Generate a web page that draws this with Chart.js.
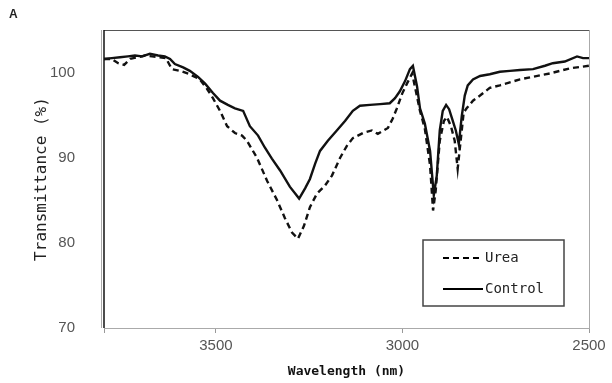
<!DOCTYPE html>
<html>
<head>
<meta charset="utf-8">
<script src="https://cdn.jsdelivr.net/npm/chart.js@4"></script>
<style>
	body { margin: 0; background: #fff; }
	#wrap { width: 612px; height: 383px; }
</style>
</head>
<body>
<div id="wrap"><canvas id="ftir" width="612" height="383"></canvas></div>
<script>
// Control (solid) spectrum
const controlX = [3800, 3779, 3757, 3736, 3717, 3698, 3677, 3655, 3637, 3623, 3610, 3588, 3570, 3548, 3529, 3508, 3489, 3468, 3449, 3427, 3409, 3387, 3369, 3350, 3328, 3302, 3277, 3261, 3248, 3234, 3221, 3200, 3176, 3154, 3133, 3114, 3087, 3060, 3034, 3020, 3007, 2993, 2980, 2972, 2961, 2953, 2940, 2926, 2916, 2908, 2900, 2892, 2883, 2875, 2867, 2857, 2849, 2841, 2833, 2825, 2811, 2792, 2766, 2739, 2712, 2685, 2650, 2618, 2597, 2565, 2532, 2516, 2500];
const controlY = [101.6, 101.7, 101.8, 101.9, 102.0, 101.9, 102.2, 102.0, 101.9, 101.6, 101.0, 100.6, 100.2, 99.5, 98.7, 97.6, 96.7, 96.2, 95.8, 95.5, 93.7, 92.6, 91.2, 89.9, 88.5, 86.6, 85.2, 86.4, 87.5, 89.3, 90.8, 92.0, 93.2, 94.3, 95.5, 96.1, 96.2, 96.3, 96.4, 97.0, 97.8, 99.0, 100.4, 100.8, 98.4, 95.8, 94.0, 90.8, 85.6, 87.9, 93.2, 95.5, 96.2, 95.7, 94.6, 93.2, 91.6, 94.9, 97.3, 98.5, 99.2, 99.6, 99.8, 100.1, 100.2, 100.3, 100.4, 100.8, 101.1, 101.3, 101.9, 101.7, 101.7];

// Urea (dashed) spectrum
const ureaX = [3800, 3779, 3762, 3746, 3730, 3709, 3690, 3671, 3650, 3634, 3618, 3596, 3570, 3543, 3524, 3508, 3489, 3470, 3449, 3430, 3417, 3390, 3363, 3336, 3315, 3296, 3280, 3264, 3248, 3229, 3208, 3189, 3167, 3149, 3133, 3106, 3082, 3066, 3039, 3026, 3015, 3001, 2988, 2974, 2964, 2953, 2940, 2926, 2918, 2911, 2900, 2889, 2881, 2870, 2860, 2852, 2844, 2836, 2828, 2811, 2792, 2766, 2739, 2685, 2605, 2551, 2500];
const ureaY = [101.6, 101.6, 101.1, 100.9, 101.6, 101.8, 102.0, 101.9, 101.8, 101.7, 100.4, 100.2, 99.8, 99.2, 98.1, 97.0, 95.5, 93.7, 92.9, 92.6, 92.0, 90.0, 87.3, 85.0, 82.9, 81.2, 80.5, 82.0, 84.2, 85.8, 86.7, 87.9, 90.0, 91.4, 92.3, 92.9, 93.2, 92.8, 93.5, 94.6, 95.8, 97.5, 98.7, 99.9, 97.8, 95.5, 93.4, 89.1, 83.8, 86.1, 92.0, 94.3, 94.8, 93.7, 92.0, 88.7, 92.0, 95.3, 95.8, 96.7, 97.3, 98.2, 98.5, 99.2, 99.9, 100.5, 100.8];

const xTicks = [3800, 3500, 3000, 2500];
const yTicks = [70, 80, 90, 100];

const toPoints = (xs, ys) => xs.map((x, i) => ({ x: x, y: ys[i] }));

// frame round the plot, the panel letter and the boxed legend
const framePlugin = {
	id: 'frame',
	afterDatasetsDraw(chart) {
		const { ctx, chartArea: a } = chart;
		ctx.save();
		ctx.lineWidth = 1;
		ctx.strokeStyle = '#555';
		ctx.beginPath();
		ctx.moveTo(a.left, a.top + 0.5);
		ctx.lineTo(a.right, a.top + 0.5);
		ctx.stroke();
		ctx.strokeStyle = '#aaa';
		ctx.beginPath();
		ctx.moveTo(a.right + 0.5, a.top);
		ctx.lineTo(a.right + 0.5, a.bottom);
		ctx.stroke();
		ctx.beginPath();
		ctx.moveTo(a.left - 2.5, a.top);
		ctx.lineTo(a.left - 2.5, a.bottom);
		ctx.stroke();
		ctx.strokeStyle = '#111';
		ctx.lineWidth = 1.5;
		ctx.beginPath();
		ctx.moveTo(a.left, a.top);
		ctx.lineTo(a.left, a.bottom);
		ctx.stroke();

		ctx.fillStyle = '#222';
		ctx.font = 'bold 12px "Liberation Sans"';
		ctx.textBaseline = 'middle';
		ctx.fillText('A', 9, 15);

		// legend box
		const bx = 423, by = 240, bw = 141, bh = 66;
		ctx.fillStyle = '#fff';
		ctx.fillRect(bx, by, bw, bh);
		ctx.strokeStyle = '#444';
		ctx.lineWidth = 1.5;
		ctx.strokeRect(bx, by, bw, bh);
		ctx.font = '14px "DejaVu Sans Mono"';
		chart.data.datasets.forEach((ds, i) => {
			const ly = by + 18 + i * 31;
			ctx.strokeStyle = '#000';
			ctx.lineWidth = 2.2;
			ctx.setLineDash(ds.borderDash || []);
			ctx.beginPath();
			ctx.moveTo(bx + 20, ly);
			ctx.lineTo(bx + 60, ly);
			ctx.stroke();
			ctx.setLineDash([]);
			ctx.fillStyle = '#222';
			ctx.fillText(ds.label, bx + 62, ly);
		});
		ctx.restore();
	}
};

new Chart(document.getElementById('ftir'), {
	type: 'line',
	data: {
		datasets: [{
			label: 'Urea',
			data: toPoints(ureaX, ureaY),
			borderColor: '#111',
			borderWidth: 2.4,
			borderDash: [6, 4],
			pointRadius: 0,
			tension: 0,
		}, {
			label: 'Control',
			data: toPoints(controlX, controlY),
			borderColor: '#111',
			borderWidth: 2.4,
			pointRadius: 0,
			tension: 0,
		}]
	},
	options: {
		responsive: false,
		animation: false,
		layout: { padding: { top: 29, right: 23, left: 0, bottom: 0 } },
		plugins: {
			legend: { display: false },
			tooltip: { enabled: false },
		},
		scales: {
			x: {
				type: 'linear',
				reverse: true,
				min: 2500,
				max: 3800,
				afterBuildTicks: scale => { scale.ticks = xTicks.map(v => ({ value: v })); },
				afterFit: scale => { scale.height = 55; },
				ticks: {
					callback: v => (v === 3800 ? '' : v),
					color: '#555',
					font: { family: '"Liberation Sans"', size: 15 },
					padding: 4,
					maxRotation: 0,
				},
				grid: { drawOnChartArea: false, drawTicks: true, tickLength: 5, color: '#999' },
				border: { display: true, color: '#aaa', width: 1 },
				title: {
					display: true,
					text: 'Wavelength (nm)',
					color: '#111',
					font: { family: '"DejaVu Sans Mono"', size: 13, weight: 'bold' },
					padding: { top: 4, bottom: 4 },
				},
			},
			y: {
				min: 70,
				max: 105,
				afterBuildTicks: scale => { scale.ticks = yTicks.map(v => ({ value: v })); },
				afterFit: scale => { scale.width = 104; },
				ticks: {
					color: '#555',
					font: { family: '"Liberation Sans"', size: 15 },
					padding: 21,
				},
				grid: { display: false },
				border: { display: false },
				title: {
					display: true,
					text: 'Transmittance (%)',
					color: '#222',
					font: { family: '"DejaVu Sans Mono"', size: 16 },
					padding: { top: 32, bottom: 0 },
				},
			},
		},
	},
	plugins: [framePlugin],
});
</script>
</body>
</html>
